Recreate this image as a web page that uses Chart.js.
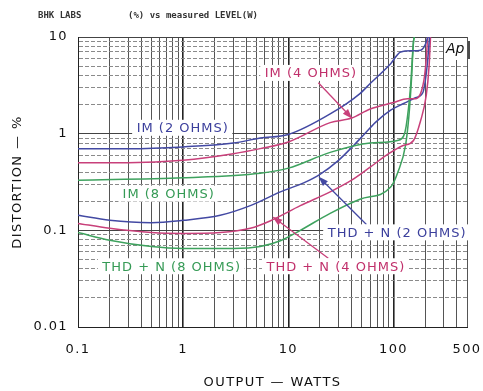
<!DOCTYPE html>
<html>
<head>
<meta charset="utf-8">
<style>
  html, body { margin: 0; padding: 0; background: #fff; }
  #wrap { width: 483px; height: 391px; }
</style>
</head>
<body>
<div id="wrap"><canvas id="grafico" width="483" height="391"></canvas></div>
<script src="https://cdn.jsdelivr.net/npm/chart.js@4.4.1/dist/chart.umd.min.js"></script>
<script>
// valores: [watts, % distorsion]
const im2  = [[0.1,0.70],[0.3,0.70],[1,0.73],[3,0.80],[5.4,0.90],[10,0.98],[25,1.6],[48,2.6],[60,3.3],[94,5.3],[117,7.0],[150,7.2],[181,7.3],[200,8.3],[212,10]];
const im4  = [[0.1,0.50],[0.3,0.50],[1,0.53],[3,0.62],[5.4,0.70],[10,0.82],[25,1.3],[40,1.45],[60,1.8],[100,2.1],[136,2.3],[162,2.3],[194,3.5],[205,6],[211,10]];
const im8  = [[0.1,0.33],[1,0.35],[5.4,0.39],[10,0.44],[25,0.64],[60,0.8],[109,0.85],[125,0.95],[132,1.2],[145,3],[155,9],[158,10]];
const thd2 = [[0.1,0.143],[0.2,0.127],[0.5,0.12],[1,0.127],[2.25,0.143],[4.35,0.18],[8.4,0.25],[14,0.31],[20,0.38],[30,0.53],[42,0.76],[52,0.97],[67,1.3],[94,1.75],[125,2.05],[162,2.35],[190,2.65],[202,3.7],[212,6],[220,10]];
const thd4 = [[0.1,0.118],[0.2,0.105],[0.5,0.095],[1,0.093],[2.25,0.095],[4.35,0.105],[6.7,0.125],[13,0.18],[25,0.25],[40,0.33],[60,0.45],[90,0.62],[122,0.75],[155,0.85],[181,1.36],[205,2.5],[218,5],[225,10]];
const thd8 = [[0.1,0.095],[0.2,0.079],[0.5,0.068],[1,0.065],[3,0.065],[5.4,0.068],[8.4,0.078],[13,0.1],[25,0.15],[48,0.21],[94,0.28],[110,0.4],[130,0.75],[140,1.5],[148,3.5],[155,9],[158,10]];

const xTickLabels = ['0.1', '1', '10', '100', '500'];
const yTickLabels = ['0.01', '0.1', '1', '10'];

const azul = '#4349a3', rosa = '#c8407a', verde = '#3ea25e';

// etiquetas dentro del area (posicion en watts / %)
const etiquetas = [
  { texto: 'IM (2 OHMS)', w: 0.98, p: 1.15, color: '#3b3f9c' },
  { texto: 'IM (4 OHMS)', w: 16.2, p: 4.25, color: '#c0306b' },
  { texto: 'IM (8 OHMS)', w: 0.72, p: 0.24, color: '#359a55' },
  { texto: 'THD + N (8 OHMS)', w: 0.77, p: 0.0425, color: '#359a55' },
  { texto: 'THD + N (2 OHMS)', w: 107, p: 0.0953, color: '#3b3f9c' },
  { texto: 'THD + N (4 OHMS)', w: 28, p: 0.0425, color: '#c0306b' }
];
const flechas = [
  { de: [19.3, 3.36], a: [40.6, 1.43], color: rosa },
  { de: [55.3, 0.115], a: [19.3, 0.36], color: azul },
  { de: [24, 0.0515], a: [7.04, 0.139], color: rosa }
];

// lineas de la cuadricula logaritmica
function decadas(min, max) {
  const out = [];
  for (let d = min; d < max; d *= 10) {
    for (let k = 1; k <= 9; k++) {
      const v = +(d * k).toPrecision(3);
      if (v <= max) out.push(v);
    }
  }
  if (out[out.length - 1] !== max) out.push(max);
  return out;
}
const esMayor = (labels, v) => labels.some(l => Number(l) === v);

const serie = (label, data, color) => ({
  label,
  data: data.map(([x, y]) => ({ x, y })),
  borderColor: color,
  borderWidth: 1.5,
  pointRadius: 0,
  fill: false,
  cubicInterpolationMode: 'monotone'
});

const anotaciones = {
  id: 'anotaciones',
  beforeDraw(chart) {
    // el original tiene el texto de los ejes espaciado
    chart.ctx.letterSpacing = '1.4px';
  },
  afterDatasetsDraw(chart) {
    const { ctx, scales: { x, y }, chartArea } = chart;
    ctx.save();
    // flechas
    flechas.forEach(f => {
      const x1 = x.getPixelForValue(f.de[0]), y1 = y.getPixelForValue(f.de[1]);
      const x2 = x.getPixelForValue(f.a[0]), y2 = y.getPixelForValue(f.a[1]);
      const ang = Math.atan2(y2 - y1, x2 - x1);
      ctx.strokeStyle = f.color;
      ctx.fillStyle = f.color;
      ctx.lineWidth = 1.3;
      ctx.beginPath();
      ctx.moveTo(x1, y1);
      ctx.lineTo(x2 - 6 * Math.cos(ang), y2 - 6 * Math.sin(ang));
      ctx.stroke();
      ctx.beginPath();
      ctx.moveTo(x2, y2);
      ctx.lineTo(x2 - 10 * Math.cos(ang) + 3.5 * Math.sin(ang), y2 - 10 * Math.sin(ang) - 3.5 * Math.cos(ang));
      ctx.lineTo(x2 - 10 * Math.cos(ang) - 3.5 * Math.sin(ang), y2 - 10 * Math.sin(ang) + 3.5 * Math.cos(ang));
      ctx.closePath();
      ctx.fill();
    });
    // textos con fondo blanco
    ctx.font = '13px "DejaVu Sans"';
    ctx.letterSpacing = '1px';
    ctx.textAlign = 'center';
    ctx.textBaseline = 'middle';
    etiquetas.forEach(e => {
      const px = x.getPixelForValue(e.w), py = y.getPixelForValue(e.p);
      const ancho = ctx.measureText(e.texto).width;
      ctx.fillStyle = '#fff';
      ctx.fillRect(px - ancho / 2 - 4, py - 8, ancho + 8, 16);
      ctx.fillStyle = e.color;
      ctx.fillText(e.texto, px + 0.5, py + 1);
    });
    // logo Ap
    ctx.fillStyle = '#fff';
    ctx.fillRect(chartArea.right - 22, chartArea.top + 1, 22, 22);
    ctx.fillStyle = '#111';
    ctx.letterSpacing = '0px';
    ctx.font = 'italic 14px "DejaVu Sans"';
    ctx.textAlign = 'left';
    ctx.fillText('Ap', chartArea.right - 21, chartArea.top + 12);
    ctx.strokeStyle = '#111';
    ctx.lineWidth = 1.5;
    ctx.beginPath();
    ctx.moveTo(chartArea.right + 2, chartArea.top + 4);
    ctx.lineTo(chartArea.right + 2, chartArea.top + 22);
    ctx.stroke();
    ctx.restore();
  },
  afterDraw(chart) {
    const { ctx } = chart;
    ctx.save();
    ctx.letterSpacing = '0px';
    ctx.fillStyle = '#333';
    ctx.font = 'bold 9px "DejaVu Sans Mono"';
    ctx.textBaseline = 'middle';
    ctx.fillText('BHK LABS', 38, 16);
    ctx.fillText('(%) vs measured LEVEL(W)', 128, 16);
    ctx.restore();
  }
};

new Chart(document.getElementById('grafico'), {
  type: 'line',
  data: {
    datasets: [
      serie('IM (2 OHMS)', im2, azul),
      serie('IM (4 OHMS)', im4, rosa),
      serie('IM (8 OHMS)', im8, verde),
      serie('THD + N (2 OHMS)', thd2, azul),
      serie('THD + N (4 OHMS)', thd4, rosa),
      serie('THD + N (8 OHMS)', thd8, verde)
    ]
  },
  options: {
    responsive: false,
    animation: false,
    devicePixelRatio: 1,
    layout: { padding: { left: 0, top: 37, right: 16, bottom: 0 } },
    plugins: { legend: { display: false }, tooltip: { enabled: false } },
    scales: {
      x: {
        type: 'logarithmic',
        min: 0.1,
        max: 500,
        afterBuildTicks: s => { s.ticks = decadas(0.1, 500).map(v => ({ value: v })); },
        afterFit: s => { s.height = 64; },
        ticks: {
          autoSkip: false,
          maxRotation: 0,
          padding: 3,
          color: '#111',
          // lineHeight alto para bajar las etiquetas sin ensanchar el margen derecho
          font: { family: 'DejaVu Sans', size: 13, lineHeight: '39px' },
          callback: v => (esMayor(xTickLabels, v) ? xTickLabels.find(l => Number(l) === v) : '')
        },
        grid: {
          drawTicks: false,
          color: c => (c.tick && esMayor(['0.1', '1', '10', '100'], c.tick.value) ? '#222' : '#555'),
          lineWidth: c => (c.tick && esMayor(['1', '10', '100'], c.tick.value) ? 1.6 : 1)
        },
        border: { color: '#222', width: 1 },
        title: {
          display: true,
          text: 'OUTPUT — WATTS',
          color: '#111',
          font: { family: 'DejaVu Sans', size: 13 },
          padding: { top: 0, bottom: 1 }
        }
      },
      y: {
        type: 'logarithmic',
        min: 0.01,
        max: 10,
        afterBuildTicks: s => { s.ticks = decadas(0.01, 10).map(v => ({ value: v })); },
        afterFit: s => { s.width = 78; },
        ticks: {
          autoSkip: false,
          padding: 10,
          color: '#111',
          font: { family: 'DejaVu Sans', size: 13 },
          callback: v => (esMayor(yTickLabels, v) ? yTickLabels.find(l => Number(l) === v) : '')
        },
        grid: {
          drawTicks: false,
          color: c => (c.tick && esMayor(yTickLabels, c.tick.value) ? '#444' : '#8a8a8a'),
          lineWidth: 1
        },
        border: {
          color: '#222',
          width: 1,
          dash: c => (c.tick && !esMayor(yTickLabels, c.tick.value) ? [4, 2] : [])
        },
        title: {
          display: true,
          text: 'DISTORTION — %',
          color: '#111',
          font: { family: 'DejaVu Sans', size: 13 },
          padding: { top: 10, bottom: 0 }
        }
      }
    }
  },
  plugins: [anotaciones]
});
</script>
</body>
</html>
